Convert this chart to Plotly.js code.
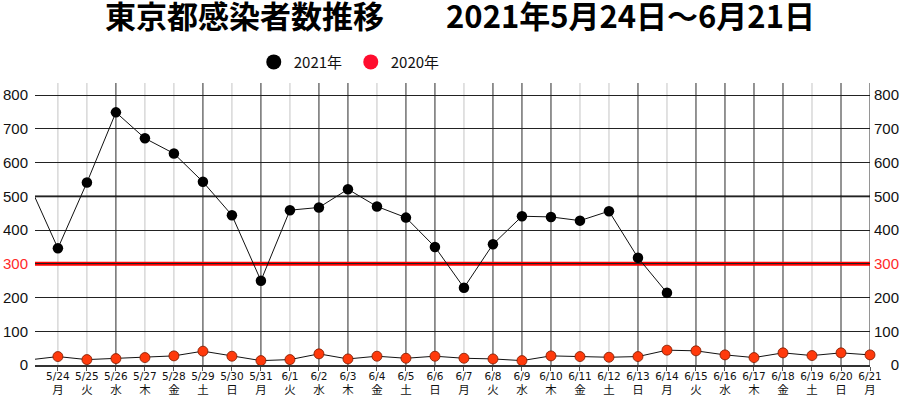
<!DOCTYPE html>
<html>
<head>
<meta charset="utf-8">
<script src="https://cdn.plot.ly/plotly-3.0.1.min.js"></script>
<style>
html,body{margin:0;padding:0;background:#fff;}
#chart{width:900px;height:396px;}
</style>
</head>
<body>
<div id="chart"></div>
<script>
// ---- data ----
const dates = ['5/24','5/25','5/26','5/27','5/28','5/29','5/30','5/31','6/1','6/2','6/3','6/4','6/5','6/6','6/7','6/8','6/9','6/10','6/11','6/12','6/13','6/14','6/15','6/16','6/17','6/18','6/19','6/20','6/21'];
const weekdays = ['月','火','水','木','金','土','日','月','火','水','木','金','土','日','月','火','水','木','金','土','日','月','火','水','木','金','土','日','月'];
const cases2021 = [346,541,749,672,627,543,444,250,459,467,521,470,437,350,229,358,441,439,428,456,318,214];
const cases2020 = [25,16,19,22,27,41,26,13,16,33,18,26,20,26,20,18,13,27,25,23,25,44,42,30,22,36,28,36,30];
const prevDay2021 = 537;   // 5/23 (only the lead-in segment is visible)
const prevDay2020 = 15;
const threshold = 300;
const yTicks = [0,100,200,300,400,500,600,700,800];
const gridDark = [0,0,1,0,0,1,0,1,0,1,1,0,1,1,0,1,1,1,0,0,1,0,1,1,1,1,0,1,1];

const idx = dates.map((d,i)=>i);
const tickText = dates.map((d,i)=> d + '<br><span style="font-family:\'Noto Sans CJK JP\';font-size:11.5px">' + weekdays[i] + '</span>');
const colorTick = (v, s) => v === threshold ? '<span style="color:#ff2a2a">'+s+'</span>' : s;
const yTickText = yTicks.map(v => colorTick(v, String(v)));
// right axis labels are right-aligned in the reference: pad with figure spaces
const yTickText2 = yTicks.map(v => colorTick(v, '\u2007'.repeat(3 - String(v).length) + v));

const idx2021 = cases2021.map((v,i)=>i);

const traces = [
  {x:[-1].concat(idx), y:[prevDay2020].concat(cases2020), mode:'lines', line:{color:'#111',width:1}, showlegend:false, hoverinfo:'skip', yaxis:'y2'},
  {x:[-1].concat(idx2021), y:[prevDay2021].concat(cases2021), mode:'lines', line:{color:'#111',width:1}, showlegend:false, hoverinfo:'skip'},
  {x:idx, y:cases2020, mode:'markers', marker:{color:'#ff3a0c', size:10, line:{color:'#7a1a00',width:0.8}}, cliponaxis:false, showlegend:false, yaxis:'y2'},
  {x:idx2021, y:cases2021, mode:'markers', marker:{color:'#000', size:10.5}, cliponaxis:false, showlegend:false},
  {x:[null], y:[null], mode:'markers', name:'2021年', marker:{color:'#000', size:15}},
  {x:[null], y:[null], mode:'markers', name:'2020年', marker:{color:'#ff0d2e', size:15}}
];

const shapes = idx.map(i => ({
  type:'line', xref:'x', yref:'paper', x0:i, x1:i, y0:0, y1:1, layer:'below',
  line:{color: gridDark[i] ? '#2a2a2a' : '#c4c4c4', width:1}
}));
shapes.push({type:'line', xref:'paper', yref:'y', x0:0, x1:1, y0:500, y1:500, layer:'below', line:{color:'#000', width:1.8}});
shapes.push({type:'line', xref:'paper', yref:'y', x0:0, x1:1, y0:threshold, y1:threshold, layer:'below', line:{color:'#ff0000', width:4}});

const yRange = [0, 836];
const layout = {
  width:900, height:396,
  margin:{l:35, r:30, t:83, b:31},
  paper_bgcolor:'#fff', plot_bgcolor:'#fff',
  font:{family:'Liberation Sans, Arial, sans-serif', color:'#111'},
  title:{text:'東京都感染者数推移\u3000\u30002021年5月24日～6月21日', x:460/900, xref:'container', xanchor:'center', y:1-17.5/396, yref:'container', yanchor:'middle',
    font:{family:'Noto Sans CJK JP, sans-serif', size:31, weight:'bold', color:'#000'}},
  showlegend:true,
  legend:{orientation:'h', x:0.262, xanchor:'left', y:1.074, yanchor:'middle', entrywidth:52, font:{family:'Noto Sans CJK JP, sans-serif', size:15, color:'#111'}, bgcolor:'rgba(0,0,0,0)'},
  xaxis:{range:[-0.79, 28], tickvals:idx, ticktext:tickText, showgrid:false, zeroline:false,
    showline:true, linecolor:'#333', linewidth:1.5, ticks:'outside', ticklen:4, tickcolor:'#555', tickwidth:1,
    ticklabelstandoff:-3, tickangle:0, tickfont:{family:'DejaVu Sans, sans-serif', size:10.5, color:'#111'}, fixedrange:true},
  yaxis:{range:yRange, tickvals:yTicks, ticktext:yTickText, showgrid:true, gridcolor:'#222', gridwidth:1, zeroline:false,
    showline:false, ticks:'', ticklabelstandoff:6, tickfont:{size:15, color:'#111'}, fixedrange:true},
  yaxis2:{range:yRange, tickvals:yTicks, ticktext:yTickText2, overlaying:'y', side:'right', showgrid:false, zeroline:false,
    showline:false, ticks:'', ticklabelstandoff:3, tickfont:{size:15, color:'#111'}, fixedrange:true},
  shapes:shapes
};

Plotly.newPlot('chart', traces, layout, {displayModeBar:false, staticPlot:true});
</script>
</body>
</html>
